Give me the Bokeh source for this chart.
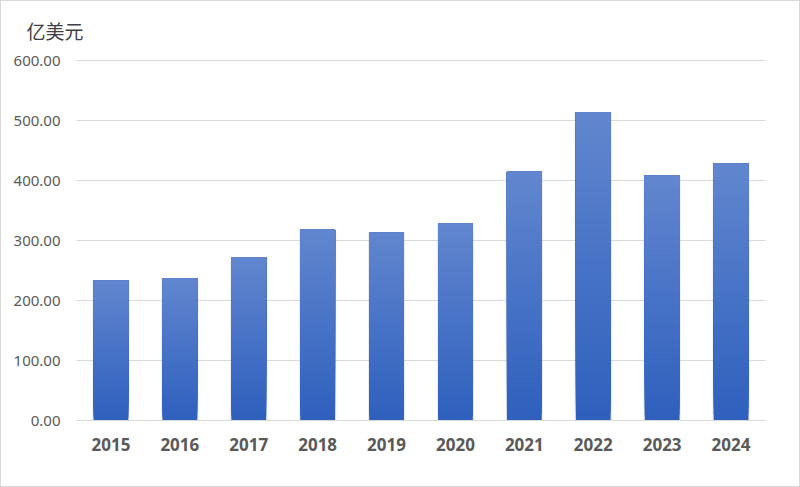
from bokeh.plotting import figure
from bokeh.models import FixedTicker, NumeralTickFormatter, ColumnDataSource
from bokeh.embed import file_html
from bokeh.resources import INLINE

years = ["2015", "2016", "2017", "2018", "2019", "2020", "2021", "2022", "2023", "2024"]
values = [233, 237, 272, 318, 313, 328, 415, 514, 408, 428]
y_ticks = [0, 100, 200, 300, 400, 500, 600]
unit_label = "亿美元"

TOP_RGB = (98, 134, 207)
BOT_RGB = (46, 96, 189)
N_BANDS = 40

# Gradient: overlapping bands, each from its start up to the bar top, drawn bottom→top
xs, bottoms, tops, colors = [], [], [], []
for k in range(N_BANDS):
    f = (k + 0.5) / N_BANDS
    r = round(BOT_RGB[0] + (TOP_RGB[0] - BOT_RGB[0]) * f)
    g = round(BOT_RGB[1] + (TOP_RGB[1] - BOT_RGB[1]) * f)
    b = round(BOT_RGB[2] + (TOP_RGB[2] - BOT_RGB[2]) * f)
    for yr, v in zip(years, values):
        xs.append(yr)
        bottoms.append(v * k / N_BANDS)
        tops.append(v)
        colors.append("#%02x%02x%02x" % (r, g, b))

src = ColumnDataSource(dict(x=xs, bottom=bottoms, top=tops, color=colors))
shadow_src = ColumnDataSource(dict(x=years, top=values))

p = figure(
    x_range=years, y_range=(0, 602),
    width=800, height=487,
    output_backend="svg", toolbar_location=None,
    min_border_left=75, min_border_right=36, min_border_top=58, min_border_bottom=68,
    styles={"border": "1px solid #d9d9d9", "box-sizing": "border-box"},
)

p.vbar(x="x", top="top", width=0.54, bottom=0, source=shadow_src,
       fill_color="#808080", fill_alpha=0.15, line_color=None)
p.vbar(x="x", bottom="bottom", top="top", width=0.505, source=src,
       fill_color="color", line_color=None)

p.title.text = unit_label
p.title.text_font = "Noto Sans CJK SC"
p.title.text_font_size = "19px"
p.title.text_font_style = "normal"
p.title.text_color = "#404040"
p.title.align = "left"
p.title.vertical_align = "top"
p.title.offset = -50
p.title.standoff = 27

p.outline_line_color = None
p.background_fill_color = "white"
p.border_fill_color = "white"

p.xgrid.grid_line_color = None
p.ygrid.grid_line_color = "#d9d9d9"
p.ygrid.grid_line_width = 1

p.yaxis.ticker = FixedTicker(ticks=y_ticks)
p.yaxis.formatter = NumeralTickFormatter(format="0.00")
p.yaxis.axis_line_color = None
p.yaxis.major_tick_line_color = None
p.yaxis.minor_tick_line_color = None
p.yaxis.major_label_text_font = "Noto Sans"
p.yaxis.major_label_text_font_size = "15px"
p.yaxis.major_label_text_color = "#595959"
p.yaxis.major_label_standoff = 10

p.xaxis.axis_line_color = "#d9d9d9"
p.xaxis.axis_line_width = 1
p.xaxis.major_tick_line_color = None
p.xaxis.minor_tick_line_color = None
p.xaxis.major_label_text_font = "Noto Sans"
p.xaxis.major_label_text_font_size = "17px"
p.xaxis.major_label_text_font_style = "bold"
p.xaxis.major_label_text_color = "#595959"
p.xaxis.major_label_standoff = 11

open("out.html", "w").write(file_html(p, INLINE))
